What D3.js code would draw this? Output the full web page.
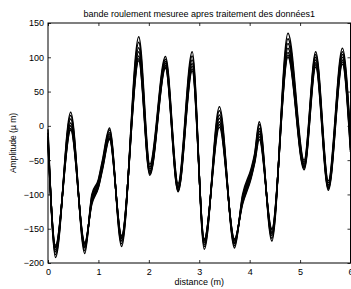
<!DOCTYPE html>
<html>
<head>
<meta charset="utf-8">
<script src="https://cdn.jsdelivr.net/npm/d3@7"></script>
<style>
  body { margin: 0; background: #fff; }
  svg { display: block; font-family: "Liberation Sans", Arial, sans-serif; }
</style>
</head>
<body>
<svg id="chart"></svg>
<script>
// distance (m) of the read-off points, shared by every measurement
const distance = [0, 0.15, 0.45, 0.73, 0.87, 1.0, 1.08, 1.22, 1.46, 1.80, 2.02, 2.33, 2.58, 2.86,
                  3.10, 3.40, 3.70, 3.86, 4.03, 4.10, 4.19, 4.44, 4.76, 5.08, 5.31, 5.56, 5.84, 6.0];

// amplitude (µm) of each measured pass
const pass1 = [-5, -192, 20, -186, -100, -78, -50, -3, -176, 130, -56, 101, -84, 108, -180, 28, -178, -100, -62, -40, 6, -168, 135, -50, 108, -80, 113, -15];
const pass2 = [-10, -188, 15, -182, -103, -80, -53, -6, -172, 122, -60, 97, -87, 102, -176, 22, -175, -103, -65, -43, 2, -164, 127, -53, 104, -83, 108, -20];
const pass3 = [-15, -184, 10, -178, -106, -83, -56, -10, -168, 114, -63, 94, -89, 96, -173, 16, -172, -106, -68, -46, -4, -160, 120, -56, 100, -86, 104, -25];
const pass4 = [-18, -181, 4, -176, -108, -85, -58, -13, -165, 108, -66, 91, -91, 91, -170, 11, -170, -108, -70, -48, -8, -157, 113, -58, 96, -88, 100, -28];
const pass5 = [-22, -178, 0, -174, -110, -87, -60, -16, -163, 102, -68, 88, -93, 87, -168, 6, -168, -110, -72, -50, -12, -155, 107, -60, 92, -90, 96, -32];
const pass6 = [-25, -176, -4, -172, -112, -89, -62, -18, -161, 98, -70, 86, -95, 83, -166, 2, -166, -112, -74, -52, -16, -152, 103, -62, 89, -92, 93, -35];
const pass7 = [-28, -174, -6, -170, -114, -90, -64, -20, -160, 95, -72, 84, -96, 80, -165, -2, -165, -114, -76, -54, -20, -150, 100, -64, 86, -94, 90, -38];
const passes = [pass1, pass2, pass3, pass4, pass5, pass6, pass7];

const xTicks = [0, 1, 2, 3, 4, 5, 6];
const yTicks = [-200, -150, -100, -50, 0, 50, 100, 150];

const titleText = "bande roulement mesuree apres traitement des données1";
const xLabel = "distance (m)";
const yLabel = "Amplitude (µ m)";

const width = 351, height = 289;
const margin = {top: 23, right: 0.5, bottom: 26, left: 48};

const svg = d3.select("#chart").attr("width", width).attr("height", height);

const x = d3.scaleLinear().domain([0, 6]).range([margin.left, width - margin.right]);
const y = d3.scaleLinear().domain([-200, 150]).range([height - margin.bottom, margin.top]);

const fmt = d => d < 0 ? "\u2212" + Math.abs(d) : String(d);

// curves
const line = d3.line()
    .x((d, i) => x(distance[i]))
    .y(d => y(d))
    .curve(d3.curveMonotoneX);

svg.append("g")
    .selectAll("path")
    .data(passes)
    .join("path")
    .attr("d", line)
    .attr("fill", "none")
    .attr("stroke", "#000")
    .attr("stroke-width", 1.5);

// axes, ticks pointing inward like matlab
const axisStyle = g => {
    g.select(".domain").remove();
    g.selectAll(".tick line").attr("stroke", "#000").attr("stroke-width", 0.8);
    g.selectAll(".tick text").attr("fill", "#000").style("font-size", "9px");
};

svg.append("g")
    .attr("transform", `translate(0,${y(-200)})`)
    .call(d3.axisBottom(x).tickValues(xTicks).tickFormat(fmt).tickSizeInner(-3).tickSizeOuter(0).tickPadding(6))
    .call(axisStyle);

svg.append("g")
    .attr("transform", `translate(${x(0)},0)`)
    .call(d3.axisLeft(y).tickValues(yTicks).tickFormat(fmt).tickSizeInner(-3).tickSizeOuter(0).tickPadding(4))
    .call(axisStyle);

svg.append("g")
    .attr("transform", `translate(0,${y(150)})`)
    .call(d3.axisTop(x).tickValues(xTicks).tickSizeInner(-3).tickSizeOuter(0).tickFormat(""))
    .call(axisStyle);

svg.append("g")
    .attr("transform", `translate(${x(6)},0)`)
    .call(d3.axisRight(y).tickValues(yTicks).tickSizeInner(-3).tickSizeOuter(0).tickFormat(""))
    .call(axisStyle);

// box
svg.append("rect")
    .attr("x", x(0))
    .attr("y", y(150))
    .attr("width", x(6) - x(0))
    .attr("height", y(-200) - y(150))
    .attr("fill", "none")
    .attr("stroke", "#000")
    .attr("stroke-width", 1);

// labels
svg.append("text")
    .attr("x", (x(0) + x(6)) / 2)
    .attr("y", 17)
    .attr("text-anchor", "middle")
    .style("font-size", "9px")
    .text(titleText);

svg.append("text")
    .attr("x", (x(0) + x(6)) / 2)
    .attr("y", 285)
    .attr("text-anchor", "middle")
    .style("font-size", "9px")
    .text(xLabel);

svg.append("text")
    .attr("transform", `translate(16,${(y(150) + y(-200)) / 2}) rotate(-90)`)
    .attr("text-anchor", "middle")
    .style("font-size", "8.5px")
    .text(yLabel);
</script>
</body>
</html>
